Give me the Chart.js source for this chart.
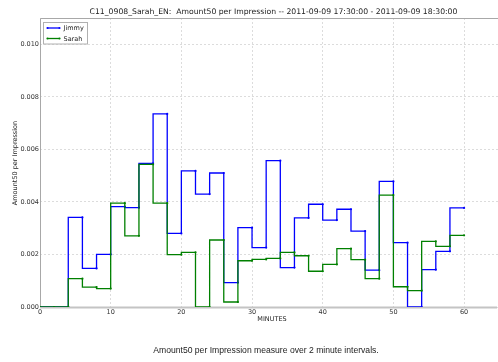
<!DOCTYPE html>
<html>
<head>
<meta charset="utf-8">
<script src="https://cdn.jsdelivr.net/npm/chart.js@4.4.0/dist/chart.umd.min.js"></script>
<style>
  html, body { margin: 0; padding: 0; background: #fff; }
  #wrap { position: relative; width: 498px; height: 362px; }
</style>
</head>
<body>
<div id="wrap"><canvas id="chart" width="498" height="362"></canvas></div>
<script>
// 데이터 (2분 간격)
const minutes = [0,2,4,6,8,10,12,14,16,18,20,22,24,26,28,30,32,34,36,38,40,42,44,46,48,50,52,54,56,58,60];
const jimmy = [0,0,0,3.41,1.47,2.00,3.82,3.78,5.47,7.35,2.80,5.18,4.30,5.10,0.93,3.02,2.26,5.57,1.50,3.39,3.91,3.31,3.72,2.89,1.40,4.78,2.45,0,1.42,2.12,3.77];
const sarah = [0,0,0,1.08,0.76,0.70,3.95,2.71,5.43,3.95,1.99,2.08,0,2.55,0.19,1.76,1.81,1.85,2.08,1.95,1.36,1.62,2.22,1.80,1.08,4.26,0.77,0.62,2.50,2.31,2.73];
const seriesNames = ['Jimmy', 'Sarah'];
const seriesColors = ['#0000ff', '#008000'];
const xTicks = [0,10,20,30,40,50,60];
const yTicks = [0,0.002,0.004,0.006,0.008,0.010];

const titleText = 'C11_0908_Sarah_EN:  Amount50 per Impression -- 2011-09-09 17:30:00 - 2011-09-09 18:30:00';
const xTitle = 'MINUTES';
const yTitle = 'Amount50 per Impression';
const caption = 'Amount50 per Impression measure over 2 minute intervals.';

const FONT = '"DejaVu Sans", sans-serif';

function toPoints(vals) {
  return vals.map((v, i) => ({ x: minutes[i], y: v * 0.001 }));
}

// 제목, 축 제목, 범례, 테두리 그리기
const decorPlugin = {
  id: 'decor',
  beforeDatasetsDraw(chart) {
    const { ctx, chartArea: a } = chart;
    ctx.save();
    ctx.strokeStyle = '#a8a8a8';
    ctx.lineWidth = 1;
    ctx.beginPath();
    ctx.moveTo(a.left + 0.5, a.bottom);
    ctx.lineTo(a.left + 0.5, a.top + 0.5);
    ctx.lineTo(a.right, a.top + 0.5);
    ctx.stroke();
    ctx.strokeStyle = '#c4c4c4';
    ctx.lineWidth = 2;
    ctx.beginPath();
    ctx.moveTo(a.left, a.bottom + 0.5);
    ctx.lineTo(a.right - 1, a.bottom + 0.5);
    ctx.stroke();
    ctx.restore();
  },
  afterDraw(chart) {
    const { ctx } = chart;
    ctx.save();
    ctx.fillStyle = '#222';
    ctx.textAlign = 'center';
    ctx.textBaseline = 'alphabetic';
    ctx.font = '7.7px ' + FONT;
    ctx.fillText(titleText, 273.5, 13.5);

    ctx.font = '6.5px ' + FONT;
    ctx.fillText(xTitle, 272, 321);

    ctx.save();
    ctx.translate(16.5, 163);
    ctx.rotate(-Math.PI / 2);
    ctx.fillText(yTitle, 0, 0);
    ctx.restore();

    ctx.font = '8.6px "Liberation Sans", Arial, sans-serif';
    ctx.fillText(caption, 266, 353);

    // 범례
    const lx = 43.5, ly = 22.5, lw = 44, lh = 21.5;
    ctx.fillStyle = '#fff';
    ctx.fillRect(lx, ly, lw, lh);
    ctx.strokeStyle = '#b0b0b0';
    ctx.lineWidth = 1;
    ctx.strokeRect(lx, ly, lw, lh);
    ctx.textAlign = 'left';
    ctx.textBaseline = 'middle';
    ctx.font = '6.5px ' + FONT;
    seriesNames.forEach((name, i) => {
      const y = 28 + i * 10.5;
      ctx.strokeStyle = seriesColors[i];
      ctx.lineWidth = 1.3;
      ctx.beginPath();
      ctx.moveTo(47.5, y);
      ctx.lineTo(59.5, y);
      ctx.stroke();
      ctx.fillStyle = seriesColors[i];
      [47.5, 59.5].forEach(px => {
        ctx.beginPath();
        ctx.arc(px, y, 1.1, 0, Math.PI * 2);
        ctx.fill();
      });
      ctx.fillStyle = '#222';
      ctx.fillText(name, 63.5, y + 0.5);
    });
    ctx.restore();
  }
};

new Chart(document.getElementById('chart'), {
  type: 'line',
  data: {
    datasets: seriesNames.map((name, i) => ({
      label: name,
      data: toPoints(i === 0 ? jimmy : sarah),
      borderColor: seriesColors[i],
      backgroundColor: seriesColors[i],
      borderWidth: 1.3,
      stepped: 'after',
      pointRadius: 1.1,
      pointBorderWidth: 0,
      pointBackgroundColor: seriesColors[i],
      fill: false,
      order: i === 0 ? 1 : 0
    }))
  },
  options: {
    responsive: false,
    animation: false,
    layout: { autoPadding: false, padding: { top: 18, right: 0, bottom: 0, left: 0 } },
    plugins: {
      legend: { display: false },
      title: { display: false },
      tooltip: { enabled: false }
    },
    scales: {
      x: {
        type: 'linear',
        min: 0,
        max: 64.8,
        afterFit: s => { s.height = 55; s.paddingRight = 0; },
        afterBuildTicks: s => { s.ticks = xTicks.map(v => ({ value: v })); },
        grid: { color: '#dcdcdc', drawTicks: false },
        border: { display: false, dash: [2, 2] },
        ticks: { font: { family: FONT, size: 6.5 }, color: '#333', padding: 1, maxRotation: 0 }
      },
      y: {
        type: 'linear',
        min: 0,
        max: 0.011,
        afterFit: s => { s.width = 40; },
        afterBuildTicks: s => { s.ticks = yTicks.map(v => ({ value: v })); },
        grid: { color: '#dcdcdc', drawTicks: false },
        border: { display: false, dash: [2, 2] },
        ticks: { font: { family: FONT, size: 6.5 }, color: '#333', padding: 1, callback: v => v.toFixed(3) }
      }
    }
  },
  plugins: [decorPlugin]
});
</script>
</body>
</html>
